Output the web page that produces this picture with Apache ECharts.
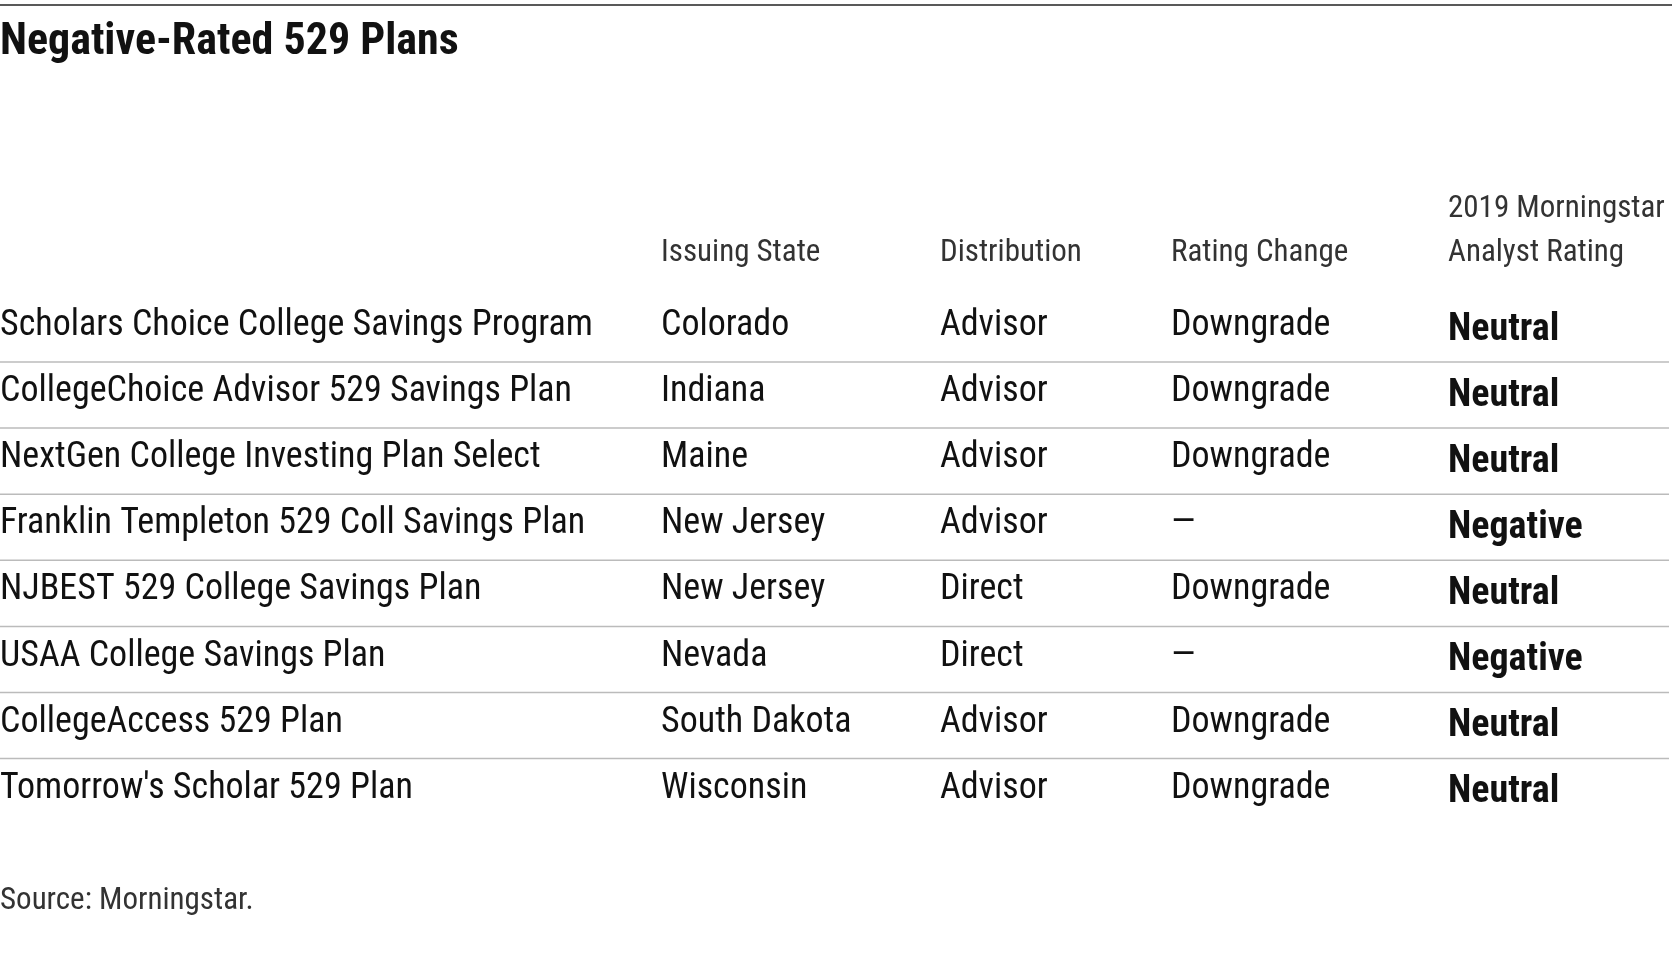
<!DOCTYPE html>
<html><head><meta charset="utf-8">
<script src="https://cdn.jsdelivr.net/npm/echarts@6/dist/echarts.min.js"></script>
<style>html,body{margin:0;padding:0;background:#fff}#c{width:1672px;height:964px}</style>
</head><body><div id="c"></div>
<script>
const title = 'Negative-Rated 529 Plans';
const headers = ['', 'Issuing State', 'Distribution', 'Rating Change', '2019 Morningstar\nAnalyst Rating'];
const plans = ['Scholars Choice College Savings Program','CollegeChoice Advisor 529 Savings Plan','NextGen College Investing Plan Select','Franklin Templeton 529 Coll Savings Plan','NJBEST 529 College Savings Plan','USAA College Savings Plan','CollegeAccess 529 Plan',"Tomorrow's Scholar 529 Plan"];
const states = ['Colorado','Indiana','Maine','New Jersey','New Jersey','Nevada','South Dakota','Wisconsin'];
const distribution = ['Advisor','Advisor','Advisor','Advisor','Direct','Direct','Advisor','Advisor'];
const ratingChange = ['Downgrade','Downgrade','Downgrade','—','Downgrade','—','Downgrade','Downgrade'];
const rating = ['Neutral','Neutral','Neutral','Negative','Neutral','Negative','Neutral','Neutral'];

const F = '"Liberation Sans Narrow", "Roboto Condensed", "DejaVu Sans Condensed", sans-serif';
const colX = [0, 661, 940, 1171, 1448];
const row0 = 326, rowH = 66.1;
const els = [];
els.push({type:'line', shape:{x1:0,y1:5,x2:1672,y2:5}, style:{stroke:'#222',lineWidth:1.5}});
els.push({type:'text', x:0, y:43, style:{text:title, font:'bold 44px '+F, fill:'#111', textVerticalAlign:'middle'}});
headers.forEach((h,i)=>{ if(!h) return;
  const lines = h.split('\n');
  lines.forEach((ln,k)=>{
    const y = 253 - (lines.length-1-k)*44;
    els.push({type:'text', x:colX[i], y:y, style:{text:ln, font:'31px '+F, fill:'#333', textVerticalAlign:'middle'}});
  });
});
const cols = [plans, states, distribution, ratingChange, rating];
for(let r=0;r<plans.length;r++){
  const y = row0 + r*rowH;
  cols.forEach((c,i)=>{
    els.push({type:'text', x:colX[i], y:(i===4?y+4:y), style:{text:c[r], font:(i===4?'bold 38px ':'36px ')+F, fill:'#111', textVerticalAlign:'middle'}});
  });
  if(r<plans.length-1) els.push({type:'line', shape:{x1:0,y1:y+36,x2:1669,y2:y+36}, style:{stroke:'#bbb',lineWidth:1.5}});
}
els.push({type:'text', x:0, y:901, style:{text:'Source: Morningstar.', font:'31px '+F, fill:'#333', textVerticalAlign:'middle'}});
const chart = echarts.init(document.getElementById('c'));
chart.setOption({backgroundColor:'#fff', graphic:els});
</script></body></html>
